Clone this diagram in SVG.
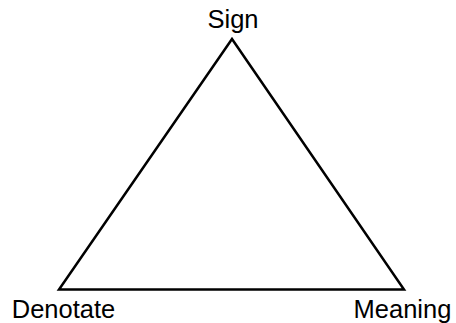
<svg xmlns="http://www.w3.org/2000/svg" width="456" height="323" viewBox="0 0 456 323">
<style>
.lbl{font-family:"Liberation Sans",Arial,sans-serif;font-size:25.5px;fill:#000}
.edge{stroke:#000;stroke-width:2.5;fill:none;stroke-linejoin:miter}
</style>
<rect width="456" height="323" fill="#fff"/>
<g id="connectors">
<path class="edge" d="M232,39 L59,289.5 L404,289.5 Z"/>
</g>
<g id="sign"><text class="lbl" x="233" y="27.5" text-anchor="middle">Sign</text></g>
<g id="denotate"><text class="lbl" x="63.5" y="318.3" text-anchor="middle">Denotate</text></g>
<g id="meaning"><text class="lbl" x="402.5" y="318.3" text-anchor="middle">Meaning</text></g>
</svg>
